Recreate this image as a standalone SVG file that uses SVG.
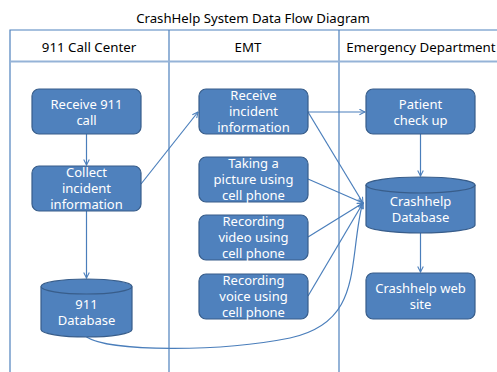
<svg xmlns="http://www.w3.org/2000/svg" width="497" height="372" viewBox="0 0 497 372">
  <defs>
    <style>
      .frame { fill: none; stroke: #4f81bd; stroke-width: 1.2; }
      .hdr { fill: none; stroke: #95b3d7; stroke-width: 2; }
      .title { font-family: "Noto Sans", "Open Sans", sans-serif; font-size: 13.2px; fill: #000; text-anchor: middle; }
      .lane { font-family: "Noto Sans", "Open Sans", sans-serif; font-size: 13.3px; fill: #000; text-anchor: middle; }
      .box { fill: #4f81bd; stroke: #385d8a; stroke-width: 1.2; }
      .lbl { font-family: "Noto Sans", "Open Sans", sans-serif; font-size: 13px; fill: #fff; text-anchor: middle; }
      .edge { fill: none; stroke: #4a7ebb; stroke-width: 1.2; }
    </style>
    <marker id="arrow" viewBox="0 0 10 10" refX="9" refY="5" markerWidth="7" markerHeight="7" orient="auto" markerUnits="userSpaceOnUse">
      <path d="M1,1 L9,5 L1,9" fill="none" stroke="#4a7ebb" stroke-width="1.5"/>
    </marker>
  </defs>

  <rect width="497" height="372" fill="#fff"/>

  <text class="title" x="253" y="23">CrashHelp System Data Flow Diagram</text>

  <!-- swimlane frame -->
  <g id="lanes">
    <path class="frame" d="M10,372 V30 H497"/>
    <path class="frame" d="M169,30 V372 M339,30 V372"/>
    <path class="hdr" d="M10,61.5 H497"/>
    <text class="lane" x="89" y="52">911 Call Center</text>
    <text class="lane" x="248" y="52">EMT</text>
    <text class="lane" x="421" y="52">Emergency Department</text>
  </g>

  <!-- connectors -->
  <g id="connectors">
    <path class="edge" d="M86.5,134 V165" marker-end="url(#arrow)"/>
    <path class="edge" d="M86.5,211 V278" marker-end="url(#arrow)"/>
    <path class="edge" d="M141,184 L198,112" marker-end="url(#arrow)"/>
    <path class="edge" d="M308,112 H365" marker-end="url(#arrow)"/>
    <path class="edge" d="M308,112 L363,203" marker-end="url(#arrow)"/>
    <path class="edge" d="M308,179 L363,203" marker-end="url(#arrow)"/>
    <path class="edge" d="M308,237 L363,203" marker-end="url(#arrow)"/>
    <path class="edge" d="M308,296 L363,203" marker-end="url(#arrow)"/>
    <path class="edge" d="M86.5,337 C110,352 220,352 290,338 C345,326 350,290 355,250 C358,225 360,210 363,203" marker-end="url(#arrow)"/>
    <path class="edge" d="M420.5,134 V176" marker-end="url(#arrow)"/>
    <path class="edge" d="M420.5,233 V272" marker-end="url(#arrow)"/>
  </g>

  <g id="receive-call">
    <rect class="box" x="32" y="89" width="109" height="45" rx="7"/>
    <text class="lbl" x="86.5" y="109">Receive 911</text>
    <text class="lbl" x="86.5" y="125">call</text>
  </g>

  <g id="collect-info">
    <rect class="box" x="32" y="166" width="109" height="45" rx="7"/>
    <text class="lbl" x="86.5" y="177">Collect</text>
    <text class="lbl" x="86.5" y="193">incident</text>
    <text class="lbl" x="86.5" y="209">information</text>
  </g>

  <g id="db-911">
    <path class="box" d="M41,286.5 V329.5 A45.5,7.5 0 0 0 132,329.5 V286.5"/>
    <ellipse class="box" cx="86.5" cy="286.5" rx="45.5" ry="7.5"/>
    <text class="lbl" x="86.5" y="309">911</text>
    <text class="lbl" x="86.5" y="325">Database</text>
  </g>

  <g id="receive-incident">
    <rect class="box" x="199" y="89" width="109" height="45" rx="7"/>
    <text class="lbl" x="253.5" y="100">Receive</text>
    <text class="lbl" x="253.5" y="116">incident</text>
    <text class="lbl" x="253.5" y="132">information</text>
  </g>

  <g id="take-picture">
    <rect class="box" x="199" y="157" width="109" height="45" rx="7"/>
    <text class="lbl" x="253.5" y="168">Taking a</text>
    <text class="lbl" x="253.5" y="184">picture using</text>
    <text class="lbl" x="253.5" y="200">cell phone</text>
  </g>

  <g id="record-video">
    <rect class="box" x="199" y="215" width="109" height="45" rx="7"/>
    <text class="lbl" x="253.5" y="226">Recording</text>
    <text class="lbl" x="253.5" y="242">video using</text>
    <text class="lbl" x="253.5" y="258">cell phone</text>
  </g>

  <g id="record-voice">
    <rect class="box" x="199" y="274" width="109" height="45" rx="7"/>
    <text class="lbl" x="253.5" y="285">Recording</text>
    <text class="lbl" x="253.5" y="301">voice using</text>
    <text class="lbl" x="253.5" y="317">cell phone</text>
  </g>

  <g id="patient-check">
    <rect class="box" x="366" y="89" width="109" height="45" rx="7"/>
    <text class="lbl" x="420.5" y="109">Patient</text>
    <text class="lbl" x="420.5" y="125">check up</text>
  </g>

  <g id="db-crashhelp">
    <path class="box" d="M366,185 V225 A54.5,8 0 0 0 475,225 V185"/>
    <ellipse class="box" cx="420.5" cy="185" rx="54.5" ry="8"/>
    <text class="lbl" x="420.5" y="206">Crashhelp</text>
    <text class="lbl" x="420.5" y="222">Database</text>
  </g>

  <g id="web-site">
    <rect class="box" x="366" y="273" width="109" height="46" rx="7"/>
    <text class="lbl" x="420.5" y="293">Crashhelp web</text>
    <text class="lbl" x="420.5" y="309">site</text>
  </g>
</svg>
